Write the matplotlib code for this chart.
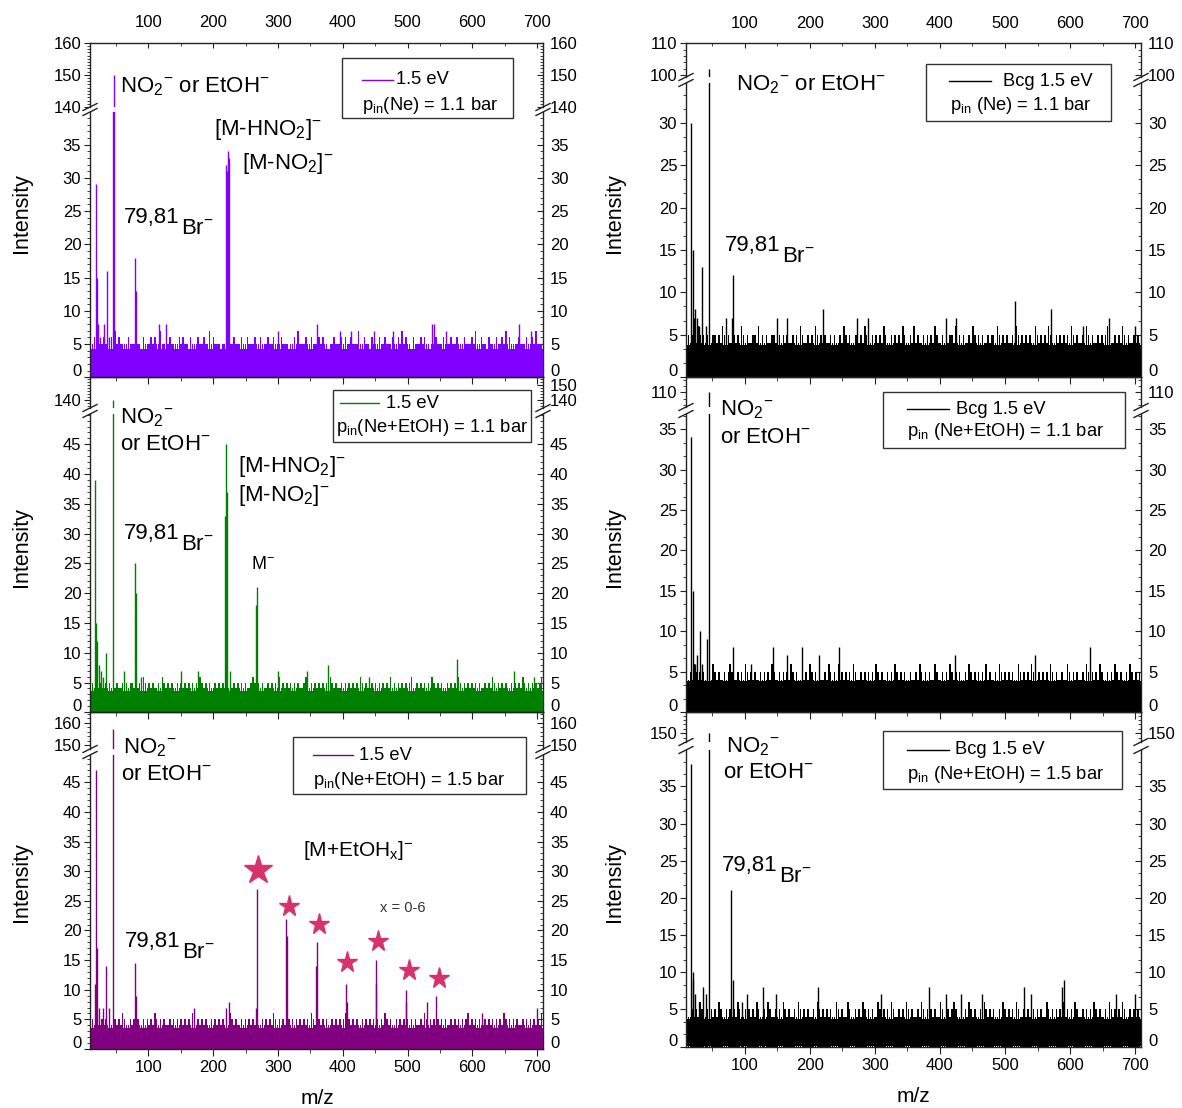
import numpy as np
import matplotlib
matplotlib.use("Agg")
import matplotlib.pyplot as plt
from matplotlib.lines import Line2D
from matplotlib.patches import Rectangle
from matplotlib.ticker import MultipleLocator
import matplotlib.transforms as mtrans

plt.rcParams['font.family'] = ['Liberation Sans', 'DejaVu Sans']
plt.rcParams['mathtext.fontset'] = 'custom'
plt.rcParams['mathtext.rm'] = 'Liberation Sans'
plt.rcParams['mathtext.it'] = 'Liberation Sans:italic'
plt.rcParams['mathtext.default'] = 'regular'

# ---------------- data ----------------
XLIM = (10, 709)
NOISE_MZ = (11, 707)

# noise heights (one digit per evenly spaced m/z bin) and solid noise floor
noise_L1 = ("5565655655465756555565556554655565655755"
            "4565555656554655565565575655545565556555"
            "6556555655655565565556555455657555655655"
            "5656554556555656556555755655465556556555"
            "6556575655465556565545565556555655655565"
            "5565755655465556556575655556555655657555")
noise_L2 = ("4545454454546454454545545454654545445465"
            "4545445454545454546545454454545464545454"
            "5454456545454454545464545454545445654545"
            "4545454654544545454545465454454545454546"
            "4545454545644545454546545454454545465454"
            "5454545445454654545454454545465454545456")
noise_L3 = ("4545445454544545465445454544545454654545"
            "4454545454545465454545445454545454654544"
            "5454545454454545465454544545454545454654"
            "4545454454545456454545445454545454546545"
            "4454545454545445465454545454544545454545"
            "6454545445454545454654545454454545454546")
noise_R1 = ("4545546545454455454654544545465454455464"
            "5454455465454544545465445454654545445454"
            "4546545445545465445454546544545454654454"
            "6454454545465445454554645454454654545445"
            "4554654545445465454545446545454654454545"
            "4546545445465454454545654454546545445454")
noise_R2 = ("5454654545445465454454565445454654545445"
            "4545465445454546545445454654545445465454"
            "6454545465445454545465454454546545454454"
            "4546545454465445454654545445465454545464"
            "5445465454545446545454654454545465454454"
            "4654545445465454546544545465454454654545")
noise_R3 = ("5445454654454545465445454546544545454654"
            "4546544545465454454654545445465454545446"
            "5454465445454654545446545454654454546545"
            "4454654545454465445456544545465454454654"
            "5454454654545465445454654545446545454546"
            "4545465445454546545445465454546544545454")
floor_L1, floor_L2, floor_L3 = 4.2, 3.6, 3.6
floor_R1, floor_R2, floor_R3 = 3.8, 3.8, 3.7

# peaks (m/z, intensity)
L1_mz = [19, 21, 22, 26, 31, 36, 40, 46, 47, 79, 81, 117, 128, 220, 221, 223, 224,
         300, 361, 395, 412, 448, 478, 537, 541, 560, 672, 690]
L1_int = [29, 15, 8, 6, 8, 16, 6, 139, 150, 18, 13, 8, 8, 32, 31, 34, 33,
          7, 8, 7, 7, 7, 7, 8, 8, 7, 8, 7]

L2_mz = [18, 20, 21, 24, 27, 30, 35, 46, 62, 79, 81, 88, 150, 176, 219, 220, 222, 226,
         266, 267, 300, 345, 377, 440, 577, 664, 695]
L2_int = [39, 15, 12, 8, 7, 6, 10, 140, 7, 25, 20, 6, 7, 7, 33, 45, 37, 7,
          18, 21, 7, 7, 8, 6, 9, 7, 6]

L3_mz = [18, 19, 21, 24, 30, 35, 40, 46, 79, 81, 170, 220, 225, 266, 268, 313, 314,
         359, 360, 405, 406, 451, 452, 497, 498, 530, 544, 615, 700]
L3_int = [11, 47, 17, 7, 7, 14, 7, 157, 14.5, 9, 7, 7, 8, 7, 27, 22, 19,
          14, 18, 11, 8, 11, 15, 10, 8, 8, 9, 6, 7]
star_mz = [270, 317, 363, 407, 454, 502, 548]
star_int = [30.2, 24.1, 21.1, 14.7, 18.2, 13.3, 11.9]

R1_mz = [18, 20, 22, 24, 27, 30, 35, 40, 46, 72, 80, 82, 150, 165, 220, 272, 290,
         410, 425, 516, 570, 620, 660, 700]
R1_int = [30, 15, 7, 8, 7, 6, 13, 6, 102, 7, 7, 12, 7, 7, 8, 7, 7,
          7, 7, 9, 8, 6, 7, 6]

R2_mz = [18, 20, 24, 27, 31, 35, 42, 46, 82, 110, 143, 165, 188, 215, 245,
         424, 546, 630]
R2_int = [34, 15, 6, 7, 10, 6, 9, 110, 8, 6, 8, 7, 8, 7, 8,
          7, 7, 8]

R3_mz = [18, 20, 21, 24, 30, 36, 40, 46, 79, 82, 96, 104, 128, 148, 213, 310,
         383, 410, 432, 465, 530, 540, 588, 590, 670, 700]
R3_int = [38, 10, 9, 7, 6, 8, 7, 150, 21, 9, 6, 7, 8, 7, 8, 7,
          8, 7, 7, 7, 8, 7, 8, 9, 7, 7]

# ---------------- layout ----------------
W, H = 1182, 1108
fig = plt.figure(figsize=(W / 100, H / 100), dpi=100)
fig.patch.set_facecolor('white')


def fx(x):
    return x / W


def fy(y):
    return 1 - y / H


COLS = [(90, 543), (686, 1141)]
SPINE = '#222222'
TICKSZ = 12


def add_ax(x0, x1, ytop, ybot):
    ax = fig.add_axes([fx(x0), fy(ybot), (x1 - x0) / W, (ybot - ytop) / H])
    ax.set_facecolor('none')
    for s in ax.spines.values():
        s.set_color(SPINE)
        s.set_linewidth(1.0)
    return ax


zero_labels = []


def panel(col, top, ub, lt, bot, ulim, llim, ul_ticks, ur_ticks, umin,
          l_ticks, lmin, noise, floor, mz, inten, color,
          top_labels=False, bottom_labels=False):
    x0, x1 = COLS[col]
    axu = add_ax(x0, x1, top, ub)
    axl = add_ax(x0, x1, lt, bot)
    nmz = np.linspace(NOISE_MZ[0], NOISE_MZ[1], len(noise))
    nint = np.array([int(c) for c in noise], dtype=float)
    step = nmz[1] - nmz[0]
    for ax in (axu, axl):
        ax.set_xlim(*XLIM)
        ax.fill_between([XLIM[0], XLIM[1]], 0, floor, color=color, lw=0)
        ax.bar(nmz, nint, width=step * 0.8, color=color, lw=0)
        ax.vlines(mz, 0, inten, color=color, lw=1.0)
        ax.xaxis.set_major_locator(MultipleLocator(100))
        ax.xaxis.set_minor_locator(MultipleLocator(50))
    axu.set_ylim(*ulim)
    axl.set_ylim(*llim)
    axu.spines['bottom'].set_visible(False)
    axl.spines['top'].set_visible(False)
    axu.spines['right'].set_visible(False)
    axl.spines['right'].set_visible(False)

    # x ticks
    axl.tick_params(axis='x', which='both', bottom=True, top=False,
                    direction='out', labelbottom=bottom_labels,
                    labelsize=TICKSZ, pad=3, color=SPINE)
    axl.tick_params(axis='x', which='major', length=5)
    axl.tick_params(axis='x', which='minor', length=3)
    if top_labels:
        axu.tick_params(axis='x', which='both', top=True, bottom=False,
                        labeltop=True, labelbottom=False, direction='in',
                        labelsize=TICKSZ, pad=9, color=SPINE)
        axu.tick_params(axis='x', which='major', length=3.5)
        axu.tick_params(axis='x', which='minor', length=2)
    else:
        axu.tick_params(axis='x', which='both', top=False, bottom=False,
                        labeltop=False, labelbottom=False)

    # y ticks (left: outward)
    for ax, tks, mn in ((axu, ul_ticks, umin), (axl, l_ticks, lmin)):
        ax.set_yticks(tks)
        ax.yaxis.set_minor_locator(MultipleLocator(mn))
        ax.tick_params(axis='y', which='both', left=True, right=False,
                       direction='out', labelsize=TICKSZ, pad=2, color=SPINE)
        ax.tick_params(axis='y', which='major', length=4.3)
        ax.tick_params(axis='y', which='minor', length=2.2)
    # right axis (inward)
    secs = []
    for ax, tks, mn in ((axu, ur_ticks, umin), (axl, l_ticks, lmin)):
        sec = ax.secondary_yaxis('right')
        sec.set_yticks(tks)
        sec.yaxis.set_minor_locator(MultipleLocator(mn))
        sec.spines['right'].set_color(SPINE)
        sec.spines['right'].set_linewidth(1.0)
        sec.tick_params(axis='y', which='both', direction='in',
                        labelsize=TICKSZ, pad=5, color=SPINE)
        sec.tick_params(axis='y', which='major', length=4)
        sec.tick_params(axis='y', which='minor', length=2.2)
        secs.append(sec)
    zero_labels.append((axl, secs[1]))

    # break marks
    for xs in (x0, x1):
        for yb in (ub, lt):
            fig.add_artist(Line2D([fx(xs - 7), fx(xs + 7)],
                                  [fy(yb + 3.5), fy(yb - 3.5)],
                                  transform=fig.transFigure, color=SPINE, lw=1.0))
    return axu, axl


def txt(x, y, s, size=16, va='baseline', **kw):
    fig.text(fx(x), fy(y), s, fontsize=size, va=va, ha='left', **kw)


def br_label(x, y):
    txt(x, y, '79,81', va='center')
    txt(x + 57, y + 11, 'Br$^{-}$', va='center')


def legend_box(x0, y0, x1, y1, lx0, lx1, ly, color, t1x, t1, t2x, t2y, t2):
    fig.add_artist(Rectangle((fx(x0), fy(y1)), (x1 - x0) / W, (y1 - y0) / H,
                             transform=fig.transFigure, fill=False,
                             ec='#333333', lw=1.0))
    fig.add_artist(Line2D([fx(lx0), fx(lx1)], [fy(ly), fy(ly)],
                          transform=fig.transFigure, color=color, lw=1.0))
    txt(t1x, ly, t1, size=13.2, va='center')
    txt(t2x, t2y, t2, size=13.2, va='baseline')


C_L1, C_L2, C_L3, C_R = '#8000FF', '#008000', '#800080', '#000000'
STAR = '#D6336C'

# ---- left column ----
panel(0, 42.7, 107, 112, 377.3, (140.0, 160), (0, 39.9), [140, 150, 160], [140, 150, 160], 1,
      list(range(0, 36, 5)), 1, noise_L1, floor_L1, L1_mz, L1_int, C_L1, top_labels=True)
panel(0, 377.3, 408, 414, 712.3, (134.7, 155.1), (0, 50.1), [140], [140, 150], 2,
      list(range(0, 46, 5)), 1, noise_L2, floor_L2, L2_mz, L2_int, C_L2)
axu3, axl3 = panel(0, 712.3, 749, 755, 1049, (148.2, 164.7), (0, 49.6), [150, 160], [150, 160], 2,
                   list(range(0, 46, 5)), 1, noise_L3, floor_L3, L3_mz, L3_int, C_L3,
                   bottom_labels=True)
axl3.plot(star_mz[:1], star_int[:1], ls='none', marker='*', ms=21, color=STAR, zorder=5)
axl3.plot(star_mz[1:], star_int[1:], ls='none', marker='*', ms=15.5, color=STAR, zorder=5)

# ---- right column ----
panel(1, 43.3, 77, 83, 377, (99.4, 110), (0, 34.7), [100, 110], [100, 110], 2,
      list(range(0, 31, 5)), 5 / 3, noise_R1, floor_R1, R1_mz, R1_int, C_R, top_labels=True)
panel(1, 377, 407, 414, 712, (105.4, 114.8), (0, 36.9), [110], [110], 2,
      list(range(0, 36, 5)), 5 / 3, noise_R2, floor_R2, R2_mz, R2_int, C_R)
panel(1, 712, 742, 750, 1046.5, (146.0, 159.7), (0, 39.9), [150], [150], 2,
      list(range(0, 36, 5)), 5 / 3, noise_R3, floor_R3, R3_mz, R3_int, C_R,
      bottom_labels=True)

# ---- annotations ----
txt(120, 92, 'NO$_2$$^{-}$ or EtOH$^{-}$')
txt(214, 135, '[M-HNO$_2$]$^{-}$')
txt(242, 169, '[M-NO$_2$]$^{-}$')
br_label(124, 218)

txt(120, 423, 'NO$_2$$^{-}$')
txt(120, 450, 'or EtOH$^{-}$')
txt(238, 472, '[M-HNO$_2$]$^{-}$')
txt(238, 501, '[M-NO$_2$]$^{-}$')
txt(251, 569, 'M$^{-}$', size=13)
br_label(124, 533)

txt(123, 753, 'NO$_2$$^{-}$')
txt(121, 780, 'or EtOH$^{-}$')
txt(303, 856, '[M+EtOH$_x$]$^{-}$', size=15)
txt(380, 912, 'x = 0-6', size=10.5, color='#333333')
br_label(125, 942)

txt(736, 90, 'NO$_2$$^{-}$ or EtOH$^{-}$')
br_label(725, 245)
txt(720, 415, 'NO$_2$$^{-}$')
txt(720, 443, 'or EtOH$^{-}$')
txt(726, 752, 'NO$_2$$^{-}$')
txt(723, 778, 'or EtOH$^{-}$')
br_label(722, 865)

# ---- legends ----
legend_box(342, 58, 513, 118, 362, 393, 80, C_L1, 396, '1.5 eV', 362, 110,
           'p$_{\\mathrm{in}}$(Ne) = 1.1 bar')
legend_box(333, 390, 531, 442, 340, 379, 403, C_L2, 386, '1.5 eV', 336, 432,
           'p$_{\\mathrm{in}}$(Ne+EtOH) = 1.1 bar')
legend_box(293, 737, 526, 794, 313, 353, 755, C_L3, 359, '1.5 eV', 313, 785,
           'p$_{\\mathrm{in}}$(Ne+EtOH) = 1.5 bar')
legend_box(926, 64, 1111, 121, 949, 991, 81, C_R, 1003, 'Bcg 1.5 eV', 950, 110,
           'p$_{\\mathrm{in}}$ (Ne) = 1.1 bar')
legend_box(883, 392, 1125, 448, 907, 949, 409, C_R, 956, 'Bcg 1.5 eV', 907, 436,
           'p$_{\\mathrm{in}}$ (Ne+EtOH) = 1.1 bar')
legend_box(883, 731, 1122, 789, 907, 949, 750, C_R, 955, 'Bcg 1.5 eV', 907, 779,
           'p$_{\\mathrm{in}}$ (Ne+EtOH) = 1.5 bar')

# ---- axis titles ----
for xl in (22, 615):
    for yc in (213, 547, 882):
        fig.text(fx(xl), fy(yc), 'Intensity', rotation=90, fontsize=15.5,
                 ha='center', va='center')
fig.text(fx(317), fy(1098), 'm/z', fontsize=15, ha='center', va='center')
fig.text(fx(913), fy(1097), 'm/z', fontsize=15, ha='center', va='center')

# shift the "0" labels slightly upward as in the reference
off = mtrans.ScaledTranslation(0, 0.07, fig.dpi_scale_trans)
for ax, sec in zero_labels:
    t = ax.yaxis.get_major_ticks()[0]
    t.label1.set_transform(t.label1.get_transform() + off)
    t2 = sec.yaxis.get_major_ticks()[0]
    t2.label2.set_transform(t2.label2.get_transform() + off)
    t2.label1.set_transform(t2.label1.get_transform() + off)

fig.savefig('out.png', dpi=100)
